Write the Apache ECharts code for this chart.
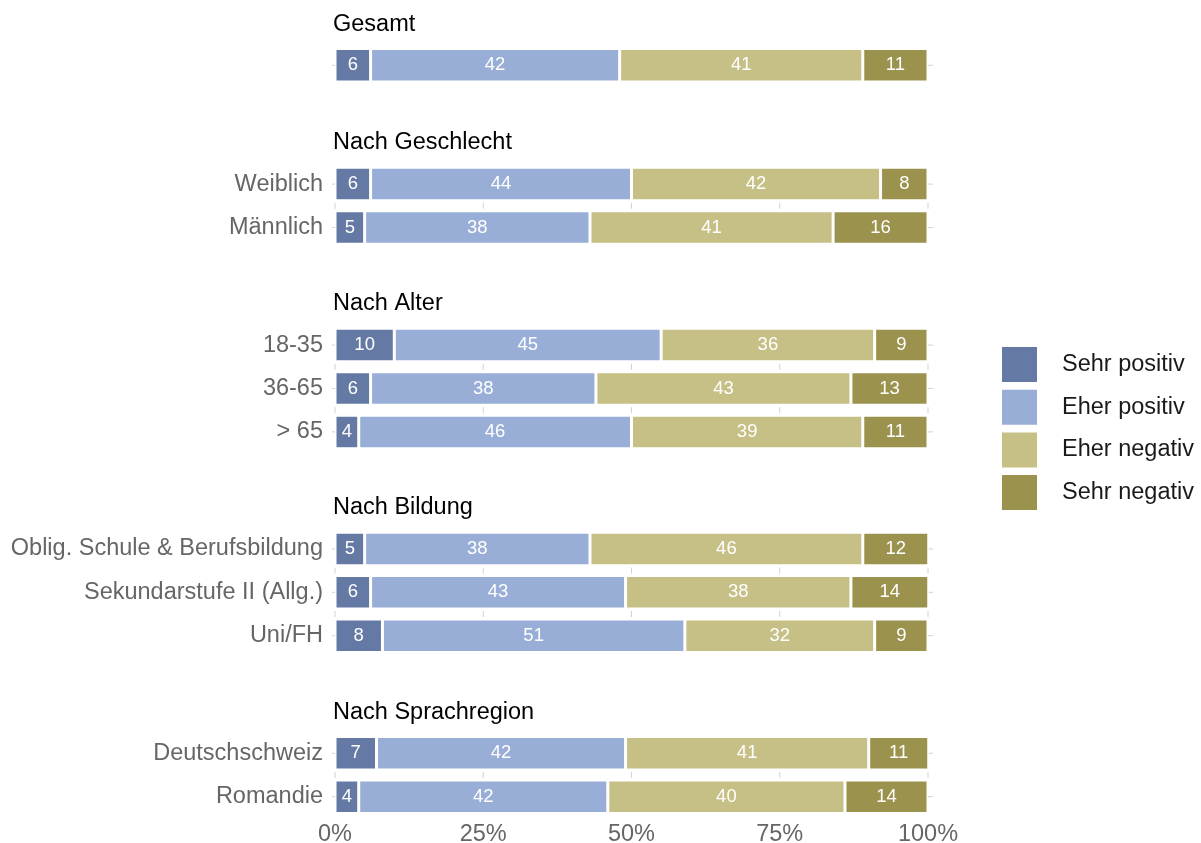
<!DOCTYPE html>
<html>
<head>
<meta charset="utf-8">
<script src="https://cdn.jsdelivr.net/npm/echarts@6/dist/echarts.min.js"></script>
<style>
  html, body { margin: 0; padding: 0; background: #ffffff; }
  #chart { width: 1201px; height: 843px; }
</style>
</head>
<body>
<div id="chart"></div>
<script>
// Answer categories (stack order, left to right)
const SERIES_NAMES = ['Sehr positiv', 'Eher positiv', 'Eher negativ', 'Sehr negativ'];
const SERIES_COLORS = ['#6579a5', '#99aed6', '#c6c086', '#9b924e'];

// Panels and their rows
const PANEL_TITLES = ['Gesamt', 'Nach Geschlecht', 'Nach Alter', 'Nach Bildung', 'Nach Sprachregion'];
const CAT_GESAMT = [''];
const CAT_GESCHLECHT = ['Weiblich', 'Männlich'];
const CAT_ALTER = ['18-35', '36-65', '> 65'];
const CAT_BILDUNG = ['Oblig. Schule & Berufsbildung', 'Sekundarstufe II (Allg.)', 'Uni/FH'];
const CAT_SPRACHE = ['Deutschschweiz', 'Romandie'];

// Shares in percent, one entry per row, rows in panel order
const SEHR_POSITIV = [6, 6, 5, 10, 6, 4, 5, 6, 8, 7, 4];
const EHER_POSITIV = [42, 44, 38, 45, 38, 46, 38, 43, 51, 42, 42];
const EHER_NEGATIV = [41, 42, 41, 36, 43, 39, 46, 38, 32, 41, 40];
const SEHR_NEGATIV = [11, 8, 16, 9, 13, 11, 12, 14, 9, 11, 14];

// Percent axis ticks
const X_TICKS = [0, 25, 50, 75, 100];
const X_TICK_LABELS = ['0%', '25%', '50%', '75%', '100%'];

const PANEL_CATS = [CAT_GESAMT, CAT_GESCHLECHT, CAT_ALTER, CAT_BILDUNG, CAT_SPRACHE];
const SERIES_VALUES = [SEHR_POSITIV, EHER_POSITIV, EHER_NEGATIV, SEHR_NEGATIV];

// Layout
const FONT = '"Liberation Sans", Arial, Helvetica, sans-serif';
const TEXT_SIZE = 23.5;
const BAND = 43.4;
const GRID_LEFT = 335;
const GRID_RIGHT = 273;
const GRID_TOPS = [43.6, 162.4, 323.4, 527.2, 731.6];
const STUB_COLOR = '#d2d2d2';

const grids = [], xAxes = [], yAxes = [], series = [], titles = [];
let rowOffset = 0;

PANEL_CATS.forEach((cats, g) => {
  const n = cats.length;
  const isLast = g === PANEL_CATS.length - 1;
  grids.push({
    left: GRID_LEFT, right: GRID_RIGHT, top: GRID_TOPS[g], height: BAND * n,
    containLabel: false, outerBoundsMode: 'none'
  });

  titles.push({
    text: PANEL_TITLES[g],
    left: 333,
    top: GRID_TOPS[g] - 31.5,
    padding: 0,
    textStyle: { fontFamily: FONT, fontSize: TEXT_SIZE, fontWeight: 'normal', color: '#000000' }
  });

  xAxes.push({
    type: 'value', gridIndex: g, min: 0, max: 100, interval: 25,
    axisLine: { show: false }, axisTick: { show: false }, splitLine: { show: false },
    axisLabel: {
      show: isLast, margin: 4, fontFamily: FONT, fontSize: TEXT_SIZE, color: '#666666',
      formatter: v => X_TICK_LABELS[X_TICKS.indexOf(v)] ?? ''
    }
  });

  yAxes.push({
    type: 'category', gridIndex: g, data: cats, inverse: true,
    axisLine: { show: false }, axisTick: { show: false }, splitLine: { show: false },
    axisLabel: { margin: 12, fontFamily: FONT, fontSize: TEXT_SIZE, color: '#666666' }
  });

  // faint grid stubs: horizontal ones at each row, vertical ones between rows
  const hData = cats.map((c, i) => [0, i]);
  series.push({
    type: 'custom', xAxisIndex: g, yAxisIndex: g, z: 1, silent: true,
    encode: { x: 0, y: 1 },
    data: hData,
    renderItem: (params, api) => {
      const i = api.value(1);
      const a = api.coord([0, i]);
      const b = api.coord([100, i]);
      return {
        type: 'line',
        shape: { x1: a[0] - 3, y1: a[1], x2: b[0] + 5, y2: b[1] },
        style: { stroke: STUB_COLOR, lineWidth: 1 }
      };
    }
  });
  if (n > 1) {
    const vData = [];
    for (let i = 0; i < n - 1; i++) X_TICKS.forEach(t => vData.push([t, i]));
    series.push({
      type: 'custom', xAxisIndex: g, yAxisIndex: g, z: 1, silent: true,
      encode: { x: 0, y: 1 },
      data: vData,
      renderItem: (params, api) => {
        const t = api.value(0), i = api.value(1);
        const p0 = api.coord([t, i]);
        const p1 = api.coord([t, i + 1]);
        const m = (p0[1] + p1[1]) / 2;
        return {
          type: 'line',
          shape: { x1: p0[0], y1: m - 3, x2: p0[0], y2: m + 3 },
          style: { stroke: STUB_COLOR, lineWidth: 1 }
        };
      }
    });
  }

  SERIES_NAMES.forEach((name, s) => {
    series.push({
      type: 'bar', name: name, xAxisIndex: g, yAxisIndex: g, stack: 'panel' + g, z: 2,
      barWidth: 33.5,
      data: SERIES_VALUES[s].slice(rowOffset, rowOffset + n),
      itemStyle: { color: SERIES_COLORS[s], borderColor: '#ffffff', borderWidth: 1.5 },
      label: {
        show: true, position: 'inside', color: '#ffffff',
        fontFamily: FONT, fontSize: 18.5
      },
      emphasis: { disabled: true }
    });
  });
  rowOffset += n;
});

const chart = echarts.init(document.getElementById('chart'), null, { renderer: 'canvas' });
chart.setOption({
  animation: false,
  backgroundColor: '#ffffff',
  title: titles,
  grid: grids,
  xAxis: xAxes,
  yAxis: yAxes,
  legend: {
    data: SERIES_NAMES,
    orient: 'vertical',
    left: 1002, top: 347,
    padding: 0,
    itemWidth: 35, itemHeight: 35, itemGap: 7.7,
    icon: 'rect',
    itemStyle: { borderWidth: 0 },
    textStyle: { fontFamily: FONT, fontSize: TEXT_SIZE, color: '#1a1a1a', padding: [0, 0, 0, 20] },
    selectedMode: false
  },
  series: series
});
</script>
</body>
</html>
